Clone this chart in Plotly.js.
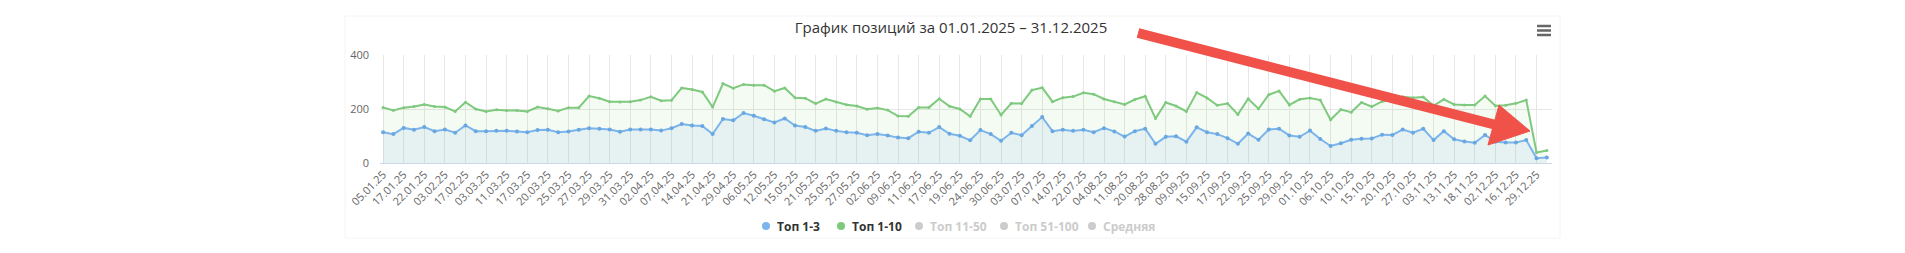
<!DOCTYPE html>
<html>
<head>
<meta charset="utf-8">
<script src="https://cdn.plot.ly/plotly-3.0.1.min.js"></script>
<style>
html,body{margin:0;padding:0;background:#ffffff;}
#chart{width:1905px;height:253px;}
</style>
</head>
<body>
<div id="chart"></div>
<script>
// ---- data ----
const tickLabels = ['05.01.25','17.01.25','22.01.25','03.02.25','17.02.25','03.03.25','11.03.25','17.03.25','20.03.25','25.03.25',
  '27.03.25','29.03.25','31.03.25','02.04.25','07.04.25','14.04.25','21.04.25','29.04.25','06.05.25','12.05.25',
  '15.05.25','21.05.25','25.05.25','27.05.25','02.06.25','09.06.25','11.06.25','17.06.25','19.06.25','24.06.25',
  '30.06.25','03.07.25','07.07.25','14.07.25','22.07.25','04.08.25','11.08.25','20.08.25','28.08.25','09.09.25',
  '15.09.25','17.09.25','22.09.25','25.09.25','29.09.25','01.10.25','06.10.25','10.10.25','15.10.25','20.10.25',
  '27.10.25','03.11.25','13.11.25','18.11.25','02.12.25','16.12.25','29.12.25'];

const top1to3 = [114,107,130,123,133,118,124,112,139,118,
  118,119,119,117,114,122,123,114,117,123,
  129,127,124,116,124,124,124,120,129,144,
  139,137,107,163,158,185,175,162,150,165,
  139,133,119,128,119,114,112,103,107,102,
  94,92,116,112,133,108,101,84,122,107,
  82,112,103,137,170,118,123,119,123,114,
  129,117,98,118,127,71,97,99,79,132,
  114,107,92,71,109,86,124,127,102,97,
  120,89,63,73,86,90,91,105,104,124,
  112,127,85,118,88,80,75,104,79,76,
  76,85,18,20];

const top1to10 = [206,195,205,209,217,209,207,191,225,200,
  191,197,194,194,191,207,201,193,205,205,
  248,240,227,226,227,233,245,231,232,278,
  272,263,207,294,277,291,288,288,266,278,
  242,240,220,237,226,216,211,199,204,196,
  174,173,206,206,238,210,200,173,237,237,
  178,221,220,270,279,227,242,246,260,255,
  237,227,217,235,247,165,224,211,191,261,
  241,214,220,180,238,201,253,267,215,236,
  241,233,160,198,188,224,209,228,233,245,
  242,244,213,236,217,215,215,248,212,214,
  221,233,39,46];

const seriesNames = ['Топ 1-3','Топ 1-10','Топ 11-50','Топ 51-100','Средняя'];
const seriesVisible = [true,true,false,false,false];
const yTicks = [0,200,400];
const titleText = 'График позиций за 01.01.2025 – 31.12.2025';

// ---- geometry helpers (pixel -> paper) ----
const W = 1905, H = 253;
const PL = 380, PR = 1552, PT = 55, PB = 163;
const px = v => (v - PL) / (PR - PL);
const py = v => (PB - v) / (PB - PT);

const idx = top1to3.map((_, i) => i);
const tickIdx = tickLabels.map((_, k) => 2 * k);

const colors = ['#7cb5ec', '#7fc97f', '#cccccc', '#cccccc', '#cccccc'];

const traces = [
  {
    x: idx, y: top1to10, name: seriesNames[1], type: 'scatter', mode: 'lines+markers',
    line: {color: colors[1], width: 2}, marker: {color: colors[1], size: 3},
    fill: 'tozeroy', fillcolor: 'rgba(144,220,125,0.10)', showlegend: false, hoverinfo: 'x+y'
  },
  {
    x: idx, y: top1to3, name: seriesNames[0], type: 'scatter', mode: 'lines+markers',
    line: {color: colors[0], width: 2}, marker: {color: '#6aa6e0', size: 4},
    fill: 'tozeroy', fillcolor: 'rgba(124,181,236,0.12)', showlegend: false, hoverinfo: 'x+y'
  }
];

// ---- shapes: container border, menu icon, arrow, legend markers ----
const shapes = [];
shapes.push({type: 'rect', xref: 'paper', yref: 'paper', x0: px(345), x1: px(1560), y0: py(238), y1: py(16),
  line: {color: '#f4f4f4', width: 1}, fillcolor: 'rgba(0,0,0,0)', layer: 'below'});
[26, 30.5, 35].forEach(yy => shapes.push({type: 'line', xref: 'paper', yref: 'paper',
  x0: px(1537), x1: px(1551), y0: py(yy), y1: py(yy), line: {color: '#666666', width: 2.5}}));

// arrow (overlay annotation arrow)
const arrowColor = '#f0524a';
shapes.push({type: 'line', xref: 'paper', yref: 'paper', x0: px(1138), y0: py(33), x1: px(1500), y1: py(126),
  line: {color: arrowColor, width: 10}, layer: 'above'});
shapes.push({type: 'path', xref: 'paper', yref: 'paper', layer: 'above',
  path: `M ${px(1499)} ${py(105)} L ${px(1530)} ${py(131)} L ${px(1488)} ${py(145)} Z`,
  fillcolor: arrowColor, line: {color: arrowColor, width: 1}});

// legend
const legendX = [766, 841, 919, 1004, 1092];
const legendY = 226;
const annotations = [];
seriesNames.forEach((n, k) => {
  const r = 4;
  shapes.push({type: 'circle', xref: 'paper', yref: 'paper',
    x0: px(legendX[k] - r), x1: px(legendX[k] + r), y0: py(legendY + r), y1: py(legendY - r),
    fillcolor: colors[k], line: {color: colors[k], width: 0}});
  annotations.push({xref: 'paper', yref: 'paper', x: px(legendX[k] + 9), y: py(legendY),
    xanchor: 'left', yanchor: 'middle', showarrow: false, text: '<b>' + n + '</b>',
    font: {family: 'Open Sans, sans-serif', size: 12, color: seriesVisible[k] ? '#333333' : '#cccccc'}});
});

const layout = {
  width: W, height: H,
  margin: {l: PL, r: W - PR, t: PT, b: H - PB, pad: 0},
  paper_bgcolor: '#ffffff', plot_bgcolor: '#ffffff',
  showlegend: false,
  title: {text: titleText, font: {family: 'Open Sans, sans-serif', size: 15, color: '#333333'},
    xref: 'container', yref: 'container', x: 951 / W, y: 1 - 28 / H, xanchor: 'center', yanchor: 'middle'},
  xaxis: {
    range: [-0.3, 113.5], tickvals: tickIdx, ticktext: tickLabels, tickangle: -45,
    showgrid: true, gridcolor: '#e6e6e6', gridwidth: 1, zeroline: false,
    showline: true, linecolor: '#ccd6eb', linewidth: 1, ticks: '',
    tickfont: {family: 'Open Sans, sans-serif', size: 11, color: '#666666'}, fixedrange: true
  },
  yaxis: {
    range: [0, 400], tickvals: yTicks, ticktext: yTicks.map(String),
    showgrid: true, gridcolor: '#e6e6e6', gridwidth: 1, zeroline: false, showline: false, ticks: '',
    ticklabelstandoff: 10,
    tickfont: {family: 'Open Sans, sans-serif', size: 11, color: '#666666'}, fixedrange: true
  },
  shapes: shapes,
  annotations: annotations,
  font: {family: 'Open Sans, sans-serif'}
};

Plotly.newPlot('chart', traces, layout, {displayModeBar: false, staticPlot: true});
</script>
</body>
</html>
